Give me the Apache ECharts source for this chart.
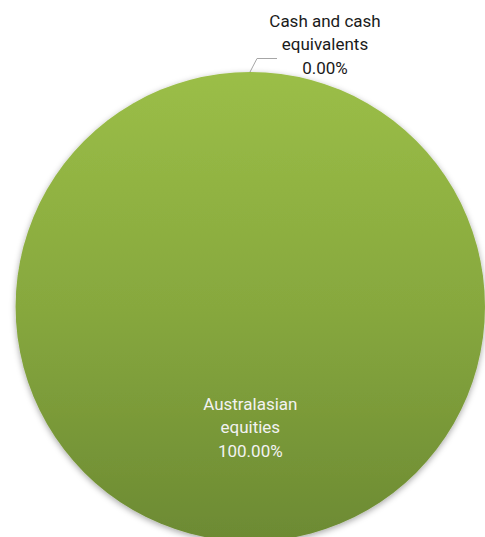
<!DOCTYPE html>
<html>
<head>
<meta charset="utf-8">
<script src="https://cdn.jsdelivr.net/npm/echarts@6/dist/echarts.min.js"></script>
<style>
html,body{margin:0;padding:0;background:#fff;}
#chart{width:485px;height:537px;}
</style>
</head>
<body>
<div id="chart"></div>
<script>
var categories = ['Australasian\nequities', 'Cash and cash\nequivalents'];
var values = [100, 0];
var percentLabels = ['100.00%', '0.00%'];

var chart = echarts.init(document.getElementById('chart'), null, {renderer: 'svg'});
var data = categories.map(function (c, i) {
  var item = {name: c, value: values[i]};
  if (i === 0) {
    item.label = {position: 'inside', color: '#F2F2F2'};
    item.labelLine = {show: false};
  } else {
    item.label = {position: 'outside', color: '#1A1A1A'};
    item.labelLine = {show: true, lineStyle: {color: '#A6A6A6', width: 1}};
  }
  return item;
});
chart.setOption({
  animation: false,
  series: [{
    type: 'pie',
    center: [250.3, 306.7],
    radius: [0, 234.7],
    startAngle: 90,
    clockwise: true,
    stillShowZeroSum: true,
    minAngle: 0,
    avoidLabelOverlap: false,
    data: data,
    itemStyle: {
      color: {
        type: 'linear', x: 0, y: 0, x2: 0, y2: 1,
        colorStops: [
          {offset: 0, color: '#9BBE47'},
          {offset: 0.5, color: '#87A83E'},
          {offset: 1, color: '#6C8A33'}
        ]
      },
      shadowBlur: 6,
      shadowColor: 'rgba(0,0,0,0.35)',
      shadowOffsetY: 2
    },
    label: {
      show: true,
      fontFamily: 'Roboto',
      fontSize: 17,
      lineHeight: 23.5,
      align: 'center',
      formatter: function (p) { return p.name + '\n' + percentLabels[p.dataIndex]; }
    },
    labelLayout: function (params) {
      if (params.dataIndex === 1) {
        return {
          x: 325, y: 44, align: 'center', verticalAlign: 'middle',
          labelLinePoints: [[250, 72], [257, 58.5], [277, 58.5]]
        };
      }
      return {};
    }
  }]
});
</script>
</body>
</html>
